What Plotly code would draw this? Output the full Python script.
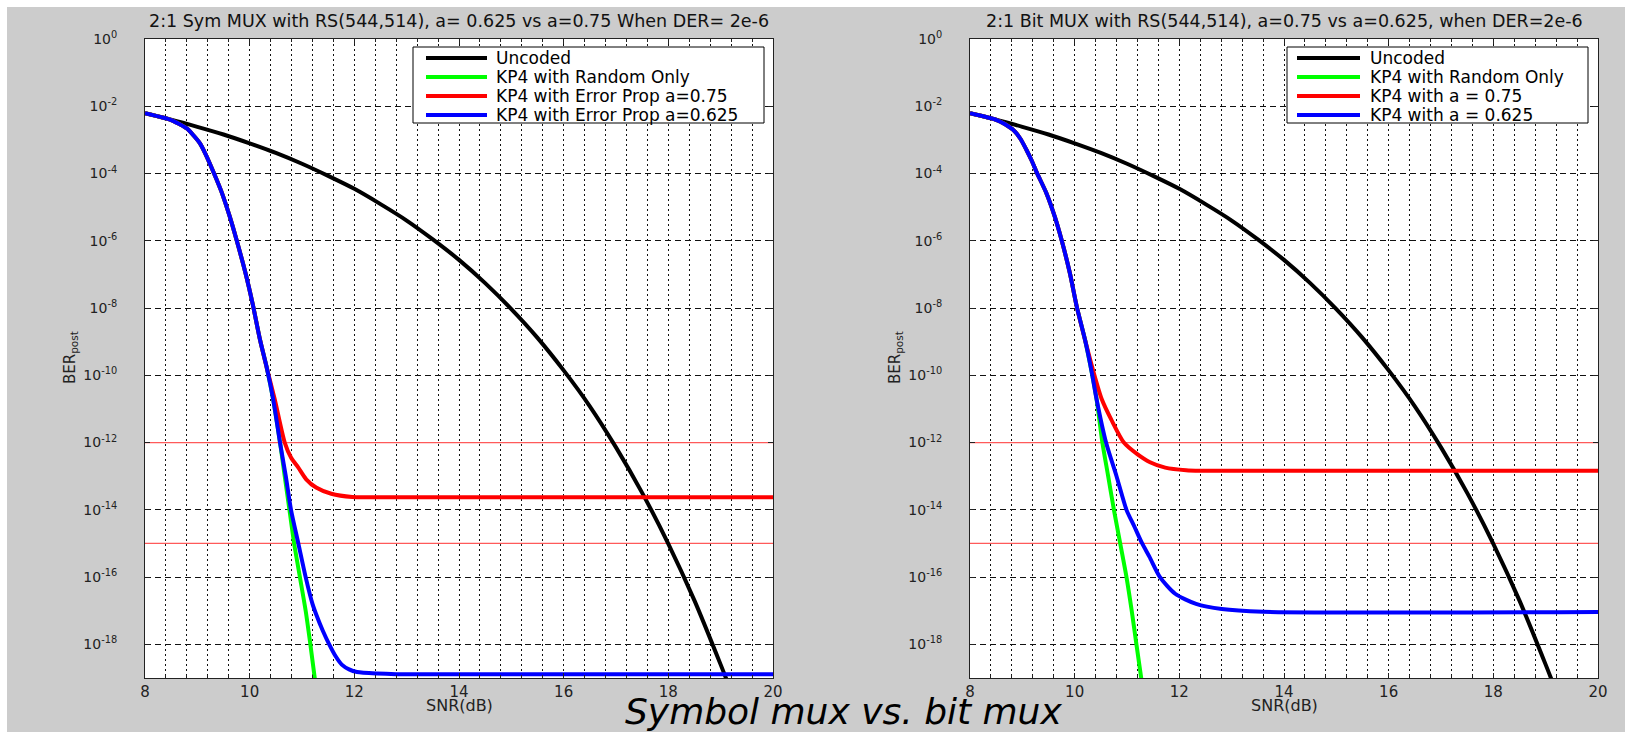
import plotly.graph_objects as go

W, H = 1625, 732

# ---------------- data ----------------
# Uncoded curve (same on both panels)
snr_uncoded = [8.0, 8.5, 9.0, 9.5, 10.0, 10.5, 11.0, 11.5, 12.0, 12.5, 13.0, 13.5,
               14.0, 14.5, 15.0, 15.5, 16.0, 16.5, 17.0, 17.5, 18.0, 18.5, 19.0, 19.2]
ber_uncoded = [6.2e-3, 4.0e-3, 2.45e-3, 1.45e-3, 7.9e-4, 4.1e-4, 1.95e-4, 8.5e-5,
               3.5e-5, 1.23e-5, 4.0e-6, 1.1e-6, 2.7e-7, 5.5e-8, 9.3e-9, 1.3e-9,
               1.4e-10, 1.2e-11, 7.2e-13, 3.2e-14, 9.8e-16, 2.0e-17, 2.5e-19, 4.0e-20]

# Left panel: 2:1 Symbol MUX
sym_snr_green = [8.0, 8.5, 8.65, 8.8, 8.92, 9.05, 9.15, 9.25, 9.45, 9.62, 9.75, 9.92, 10.06,
                 10.2, 10.33, 10.45, 10.58, 10.67, 10.76, 10.85, 10.96, 11.07, 11.16, 11.26]
sym_ber_green = [6.2e-3, 3.9e-3, 3.0e-3, 2.2e-3, 1.4e-3, 7.9e-4, 4.0e-4, 1.8e-4, 3.2e-5,
                 5.2e-6, 1.05e-6, 1.1e-7, 1.26e-8, 1.1e-9, 1.6e-10, 1.9e-11, 1e-12, 1e-13,
                 1e-14, 1e-15, 1e-16, 1e-17, 1e-18, 6.3e-20]
sym_snr_red = [8.0, 8.5, 8.65, 8.8, 8.92, 9.05, 9.15, 9.25, 9.45, 9.62, 9.75, 9.92, 10.06,
               10.2, 10.33, 10.48, 10.67, 10.79, 10.93, 11.08, 11.27, 11.56, 11.96, 12.3, 20.0]
sym_ber_red = [6.2e-3, 3.9e-3, 3.0e-3, 2.2e-3, 1.4e-3, 7.9e-4, 4.0e-4, 1.8e-4, 3.2e-5,
               5.2e-6, 1.05e-6, 1.1e-7, 1.26e-8, 1.1e-9, 1.6e-10, 1.9e-11, 1e-12, 3.6e-13,
               1.8e-13, 8.1e-14, 4.6e-14, 3.0e-14, 2.4e-14, 2.35e-14, 2.35e-14]
sym_snr_blue = [8.0, 8.5, 8.65, 8.8, 8.92, 9.05, 9.15, 9.25, 9.45, 9.62, 9.75, 9.92, 10.06,
                10.2, 10.33, 10.45, 10.58, 10.69, 10.79, 10.93, 11.07, 11.2, 11.27, 11.4,
                11.52, 11.64, 11.76, 11.9, 12.05, 12.44, 12.8, 20.0]
sym_ber_blue = [6.2e-3, 3.9e-3, 3.0e-3, 2.2e-3, 1.4e-3, 7.9e-4, 4.0e-4, 1.8e-4, 3.2e-5,
                5.2e-6, 1.05e-6, 1.1e-7, 1.26e-8, 1.1e-9, 1.6e-10, 1.9e-11, 1e-12, 1e-13,
                1e-14, 1e-15, 1e-16, 1.6e-17, 7.9e-18, 2.5e-18, 1e-18, 4.5e-19, 2.5e-19,
                1.8e-19, 1.5e-19, 1.35e-19, 1.3e-19, 1.3e-19]

# Right panel: 2:1 Bit MUX
bit_snr_green = [8.0, 8.51, 8.67, 8.83, 8.96, 9.08, 9.18, 9.27, 9.46, 9.62, 9.75, 9.91,
                 10.04, 10.2, 10.33, 10.42, 10.53, 10.64, 10.75, 10.87, 10.99, 11.09, 11.18,
                 11.29]
bit_ber_green = [6.2e-3, 3.9e-3, 2.9e-3, 1.95e-3, 1.1e-3, 5.0e-4, 2.4e-4, 1.12e-4, 2.6e-5,
                 5.2e-6, 1.05e-6, 1.07e-7, 1.1e-8, 1.1e-9, 1.15e-10, 1.9e-11, 1e-12, 1e-13,
                 1e-14, 1e-15, 1e-16, 1e-17, 1e-18, 6.3e-20]
bit_snr_red = [8.0, 8.51, 8.67, 8.83, 8.96, 9.08, 9.18, 9.27, 9.46, 9.62, 9.75, 9.91, 10.04,
               10.2, 10.36, 10.52, 10.7, 10.94, 11.19, 11.44, 11.73, 12.13, 12.4, 20.0]
bit_ber_red = [6.2e-3, 3.9e-3, 2.9e-3, 1.95e-3, 1.1e-3, 5.0e-4, 2.4e-4, 1.12e-4, 2.6e-5,
               5.2e-6, 1.05e-6, 1.07e-7, 1.1e-8, 1.1e-9, 1.26e-10, 1.9e-11, 4.8e-12, 1e-12,
               4.6e-13, 2.6e-13, 1.8e-13, 1.5e-13, 1.45e-13, 1.45e-13]
bit_snr_blue = [8.0, 8.51, 8.67, 8.83, 8.96, 9.08, 9.18, 9.27, 9.46, 9.62, 9.75, 9.91, 10.04,
                10.2, 10.33, 10.42, 10.6, 10.8, 10.99, 11.14, 11.29, 11.43, 11.63, 11.92,
                12.32, 12.81, 13.6, 20.0]
bit_ber_blue = [6.2e-3, 3.9e-3, 2.9e-3, 1.95e-3, 1.1e-3, 5.0e-4, 2.4e-4, 1.12e-4, 2.6e-5,
                5.2e-6, 1.05e-6, 1.07e-7, 1.1e-8, 1.1e-9, 1.15e-10, 1.9e-11, 1e-12, 1e-13,
                1e-14, 3.2e-15, 1e-15, 4e-16, 1e-16, 3.2e-17, 1.6e-17, 1.12e-17, 9.3e-18,
                9.1e-18]

# Reference threshold levels (thin red lines)
threshold_levels = [1e-12, 1e-15]
snr_span = [8, 20]

titles = ["2:1 Sym MUX with RS(544,514), a= 0.625 vs a=0.75 When DER= 2e-6",
          "2:1 Bit MUX with RS(544,514), a=0.75 vs a=0.625, when DER=2e-6"]
legend_left = ["Uncoded", "KP4 with Random Only", "KP4 with Error Prop a=0.75",
               "KP4 with Error Prop a=0.625"]
legend_right = ["Uncoded", "KP4 with Random Only", "KP4 with a = 0.75", "KP4 with a = 0.625"]
x_ticks = [8, 10, 12, 14, 16, 18, 20]
y_exps = [0, -2, -4, -6, -8, -10, -12, -14, -16, -18]
caption = "Symbol mux vs. bit mux"

# ---------------- layout geometry ----------------
FONT = "DejaVu Sans"
GRAY = "#cccccc"
PT, PB = 39, 678
panels = [
    dict(x0=145, x1=773, xa="x", ya="y", names=legend_left, title=titles[0],
         g=(sym_snr_green, sym_ber_green), r=(sym_snr_red, sym_ber_red),
         b=(sym_snr_blue, sym_ber_blue),
         leg=dict(bx0=413, bx1=764, lx0=426, lx1=487, tx=494)),
    dict(x0=970, x1=1598, xa="x2", ya="y2", names=legend_right, title=titles[1],
         g=(bit_snr_green, bit_ber_green), r=(bit_snr_red, bit_ber_red),
         b=(bit_snr_blue, bit_ber_blue),
         leg=dict(bx0=1287, bx1=1588, lx0=1297, lx1=1360, tx=1368)),
]
LEG_TOP, LEG_BOT = 47, 123
LEG_ROWS = [58, 77, 96, 115]

fig = go.Figure()
colors = ["#000000", "#00ff00", "#ff0000", "#0000ff"]

for p in panels:
    for lvl in threshold_levels:
        fig.add_trace(go.Scatter(x=snr_span, y=[lvl, lvl], mode="lines", xaxis=p["xa"], yaxis=p["ya"],
                                 line=dict(color="#ff5a5a", width=1.2), showlegend=False,
                                 hoverinfo="skip"))
    series = [(snr_uncoded, ber_uncoded), p["g"], p["r"], p["b"]]
    for (xs, ys), nm, c in zip(series, p["names"], colors):
        fig.add_trace(go.Scatter(x=xs, y=ys, mode="lines", name=nm, xaxis=p["xa"], yaxis=p["ya"],
                                 line=dict(color=c, width=4, shape="spline", smoothing=0.7),
                                 showlegend=False))


def px(x):
    return x / W


def py(y):
    return 1 - y / H


def xaxis(x0, x1, anchor):
    return dict(domain=[px(x0), px(x1)], anchor=anchor, range=[8, 20], tickvals=x_ticks,
                automargin=False,
                ticks="inside", ticklen=5, tickcolor="#222", showline=True, linecolor="#222",
                linewidth=1, mirror="ticks", showgrid=True, gridcolor="#111", gridwidth=1,
                griddash="2px,3px", zeroline=False, ticklabelstandoff=0,
                tickfont=dict(family=FONT, size=15, color="#222"),
                minor=dict(tick0=8, dtick=0.4, showgrid=True, gridcolor="#111", gridwidth=1,
                           griddash="2px,3px", ticks="inside", ticklen=3, tickcolor="#222"))


def yaxis(anchor):
    return dict(domain=[py(PB), py(PT)], anchor=anchor, type="log", range=[-19, 0],
                automargin=False,
                tickvals=[10.0 ** e for e in y_exps],
                ticktext=["10<sup>%d</sup>" % e for e in y_exps],
                ticks="inside", ticklen=5, tickcolor="#222", showline=True, linecolor="#222",
                linewidth=1, mirror="ticks", showgrid=True, gridcolor="#111", gridwidth=1,
                griddash="6px,4px", zeroline=False, ticklabelstandoff=24,
                tickfont=dict(family=FONT, size=14, color="#222"))


shapes = [dict(type="rect", xref="paper", yref="paper", x0=px(7), x1=1, y0=0, y1=py(7),
               fillcolor=GRAY, line=dict(width=0), layer="below")]
annotations = []
for p in panels:
    shapes.append(dict(type="rect", xref="paper", yref="paper", x0=px(p["x0"]), x1=px(p["x1"]),
                       y0=py(PB), y1=py(PT), fillcolor="white", line=dict(width=0),
                       layer="below"))
    cx = px((p["x0"] + p["x1"]) / 2)
    annotations.append(dict(text=p["title"], x=cx, y=py(21), xref="paper", yref="paper",
                            showarrow=False, xanchor="center", yanchor="middle",
                            font=dict(family=FONT, size=17.5, color="#111")))
    annotations.append(dict(text="SNR(dB)", x=cx, y=py(705), xref="paper", yref="paper",
                            showarrow=False, xanchor="center", yanchor="middle",
                            font=dict(family=FONT, size=16, color="#222")))
    annotations.append(dict(text="BER<sub>post</sub>", x=px(p["x0"] - 75), y=py(358),
                            xref="paper", yref="paper", showarrow=False, textangle=-90,
                            xanchor="center", yanchor="middle",
                            font=dict(family=FONT, size=15, color="#222")))
    # legend box drawn from the same names / colours as the traces
    lg = p["leg"]
    shapes.append(dict(type="rect", xref="paper", yref="paper", x0=px(lg["bx0"]), x1=px(lg["bx1"]),
                       y0=py(LEG_BOT), y1=py(LEG_TOP), fillcolor="white",
                       line=dict(color="#000", width=1), layer="above"))
    for nm, c, ry in zip(p["names"], colors, LEG_ROWS):
        shapes.append(dict(type="line", xref="paper", yref="paper", x0=px(lg["lx0"]),
                           x1=px(lg["lx1"]), y0=py(ry), y1=py(ry),
                           line=dict(color=c, width=4), layer="above"))
        annotations.append(dict(text=nm, x=px(lg["tx"]), y=py(ry), xref="paper", yref="paper",
                                showarrow=False, xanchor="left", yanchor="middle",
                                font=dict(family=FONT, size=17, color="#000")))

annotations.append(dict(text="<i>" + caption + "</i>", x=px(843), y=py(711), xref="paper",
                        yref="paper", showarrow=False, xanchor="center", yanchor="middle",
                        font=dict(family=FONT, size=36, color="#000")))

fig.update_layout(
    width=W, height=H, margin=dict(l=0, r=0, t=0, b=0, autoexpand=False),
    paper_bgcolor="white", plot_bgcolor="rgba(0,0,0,0)",
    xaxis=xaxis(145, 773, "y"), yaxis=yaxis("x"),
    xaxis2=xaxis(970, 1598, "y2"), yaxis2=yaxis("x2"),
    shapes=shapes, annotations=annotations,
    showlegend=False,
)

fig.write_html("out.html")
